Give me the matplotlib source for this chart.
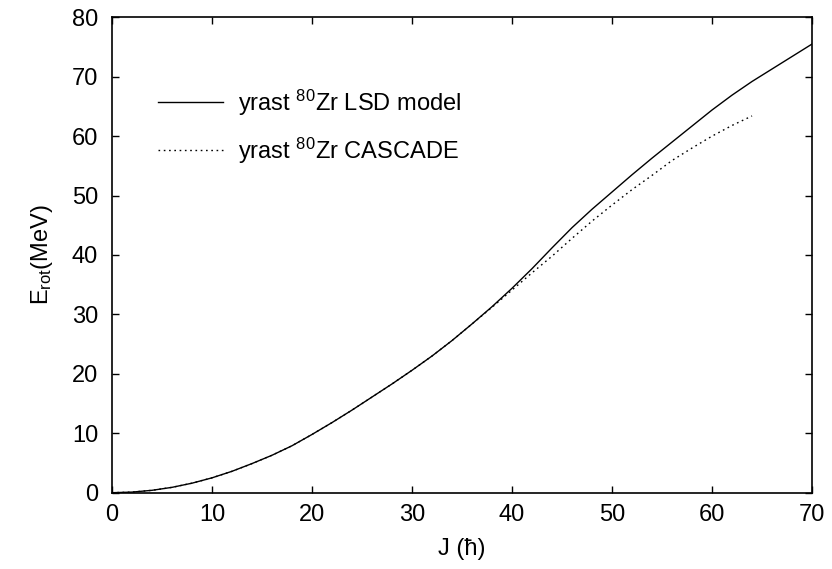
import matplotlib
matplotlib.use("Agg")
import matplotlib.pyplot as plt

# datos (J en hbar, E en MeV)
j_lsd = [0, 2, 4, 6, 8, 10, 12, 14, 16, 18, 20, 22, 24, 26, 28, 30, 32, 34,
         36, 38, 40, 42, 44, 46, 48, 50, 52, 54, 56, 58, 60, 62, 64, 66, 68, 70]
e_lsd = [0, 0.1, 0.4, 0.9, 1.6, 2.5, 3.6, 4.9, 6.3, 7.9, 9.8, 11.8, 13.9, 16.1,
         18.3, 20.6, 23.0, 25.6, 28.4, 31.3, 34.4, 37.7, 41.2, 44.6, 47.7, 50.6,
         53.5, 56.3, 59.0, 61.7, 64.4, 66.9, 69.2, 71.3, 73.4, 75.5]

j_cascade = [0, 2, 4, 6, 8, 10, 12, 14, 16, 18, 20, 22, 24, 26, 28, 30, 32, 34,
             36, 38, 40, 42, 44, 46, 48, 50, 52, 54, 56, 58, 60, 62, 64]
e_cascade = [0, 0.1, 0.4, 0.9, 1.6, 2.5, 3.6, 4.9, 6.3, 7.9, 9.8, 11.8, 13.9, 16.1,
             18.3, 20.6, 23.0, 25.6, 28.4, 31.2, 34.1, 37.0, 39.8, 42.8, 45.7, 48.4,
             51.0, 53.4, 55.9, 58.0, 60.0, 61.8, 63.4]

x_ticks = [0, 10, 20, 30, 40, 50, 60, 70]
y_ticks = [0, 10, 20, 30, 40, 50, 60, 70, 80]

plt.rcParams['font.family'] = ['Liberation Sans', 'DejaVu Sans']
plt.rcParams['mathtext.fontset'] = 'custom'
plt.rcParams['mathtext.rm'] = 'Liberation Sans'
plt.rcParams['mathtext.it'] = 'Liberation Sans'
plt.rcParams['mathtext.default'] = 'regular'

fs = 17

fig = plt.figure(figsize=(8.32, 5.69), dpi=100)
ax = fig.add_axes([0.1346, 0.1341, 0.8414, 0.8355])

ax.plot(j_lsd, e_lsd, color='black', linewidth=1.0,
        label='yrast $^{80}$Zr LSD model')
ax.plot(j_cascade, e_cascade, color='black', linewidth=1.0,
        linestyle=(0, (1.2, 2.6)), label='yrast $^{80}$Zr CASCADE')

ax.set_xlim(0, 70)
ax.set_ylim(0, 80)
ax.set_xticks(x_ticks)
ax.set_yticks(y_ticks)
ax.tick_params(direction='in', top=True, right=True, length=5, width=1,
               labelsize=fs)
ax.tick_params(axis='x', pad=8)
ax.tick_params(axis='y', pad=10)
for s in ax.spines.values():
    s.set_linewidth(1.2)

ax.set_xlabel('J (ħ)', fontsize=fs, labelpad=9)
ax.set_ylabel('E$_{rot}$(MeV)', fontsize=fs, labelpad=12)

ax.legend(loc='upper left', bbox_to_anchor=(0.066, 0.852), frameon=False,
          fontsize=fs, handlelength=2.75, handletextpad=0.65,
          labelspacing=0.75, borderpad=0, borderaxespad=0)

fig.savefig('out.png', dpi=100)
